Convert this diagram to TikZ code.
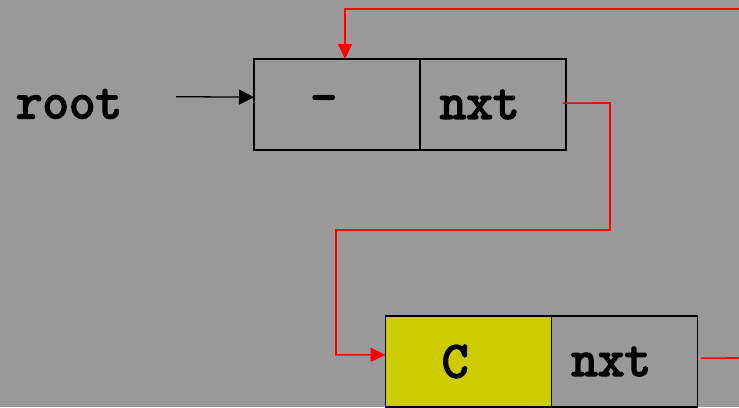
\documentclass[tikz,border=0pt]{standalone}
\usepackage{fontspec}
\newfontfamily\codefont[FakeBold=3.5]{Latin Modern Mono}
\usetikzlibrary{positioning,arrows.meta}
\definecolor{slate}{HTML}{999999}
\definecolor{olive}{HTML}{CCCC00}
\newcommand{\pad}{\kern0.8cm}
\begin{document}
\begin{tikzpicture}[x=0.03cm, y=-0.03cm]
    % Styles
    \tikzstyle{cell} = [draw, line width=1.1pt, rectangle, outer sep=0pt, inner sep=0pt, minimum height=2.73cm, font=\codefont\fontsize{44}{44}\selectfont]
    \tikzstyle{datacell} = [cell, minimum width=4.98cm]
    \tikzstyle{ptrcell} = [cell, minimum width=4.38cm]
    \tikzstyle{link} = [red, line width=1.4pt, -{Triangle[length=0.45cm, width=0.42cm]}]

    % Background
    \fill[slate] (0,0) rectangle (739,407);
    \useasboundingbox (0,0) rectangle (739,407);

    % Nodes
    \node[font=\codefont\fontsize{44}{44}\selectfont] (root) at (69,104) {root};
    \node[datacell] (d1) at (337,104.5) {-\pad};
    \node[ptrcell, right=0pt of d1] (p1) {nxt\pad};
    \node[datacell, fill=olive] (d2) at (468.5,361.5) {C\pad};
    \node[ptrcell, right=0pt of d2] (p2) {nxt\pad};
    \coordinate (loopin) at (739,9);
    \coordinate (tail) at (739,358);

    % Flow arrows
    \draw[line width=1.1pt, -{Triangle[length=0.45cm, width=0.45cm]}] ([xshift=1.5cm, yshift=0.22cm]root.east) -- ([yshift=0.22cm]d1.west);
    \draw[link] (loopin) -| ([xshift=0.24cm]d1.north);
    \draw[link] ([xshift=-0.1cm, yshift=0.04cm]p1.east) -- (610,103) |- (336,230) |- ([yshift=0.2cm]d2.west);
    \draw[red, line width=1.4pt] ([xshift=0.1cm, yshift=0.1cm]p2.east) -- (tail);
\end{tikzpicture}
\end{document}
